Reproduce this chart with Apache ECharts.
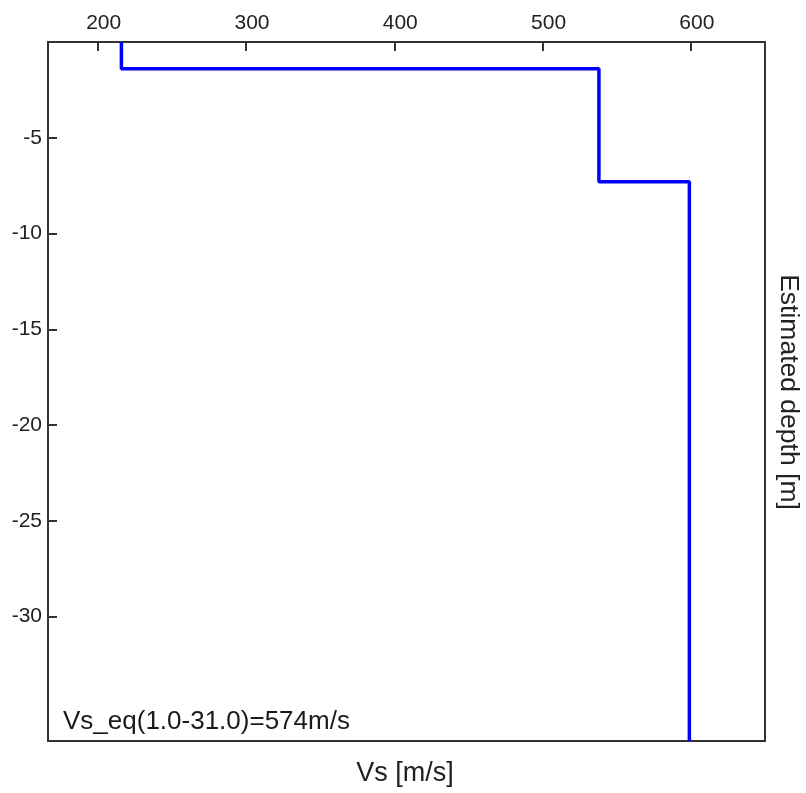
<!DOCTYPE html>
<html>
<head>
<meta charset="utf-8">
<script src="https://cdn.jsdelivr.net/npm/echarts@6/dist/echarts.min.js"></script>
<style>
html,body{margin:0;padding:0;background:#fff;}
#chart{width:806px;height:793px;}
</style>
</head>
<body>
<div id="chart"></div>
<script>
// Layered Vs profile
const layerTop = [0, 1.4, 7.3];          // m (depth of top of layer)
const layerBottom = [1.4, 7.3, 36.5];    // m (depth of bottom of layer)
const layerVs = [216, 538, 599];         // m/s
const xTicks = [200, 300, 400, 500, 600];
const yTicks = [-5, -10, -15, -20, -25, -30];
const annotation = 'Vs_eq(1.0-31.0)=574m/s';

const points = [];
for (let i = 0; i < layerVs.length; i++) {
  points.push([layerVs[i], -layerTop[i]]);
  points.push([layerVs[i], -layerBottom[i]]);
}

const FONT = 'Liberation Sans, Arial, sans-serif';
const chart = echarts.init(document.getElementById('chart'), null, {renderer: 'canvas'});
chart.setOption({
  animation: false,
  backgroundColor: '#ffffff',
  grid: {left: 48, top: 42, right: 41, bottom: 52, show: true, borderColor: '#333', borderWidth: 2, backgroundColor: '#fff'},
  xAxis: {
    type: 'value', position: 'top', min: 166.5, max: 650,
    axisLine: {show: true, lineStyle: {color: '#333', width: 2}},
    axisTick: {show: true, inside: true, length: 9, lineStyle: {color: '#333', width: 2},
      customValues: xTicks},
    axisLabel: {color: '#222', fontSize: 21, fontFamily: FONT, margin: 8, padding: [0,0,0,12],
      customValues: xTicks, hideOverlap: false},
    splitLine: {show: false}
  },
  yAxis: {
    type: 'value', min: -36.5, max: 0,
    axisLine: {show: true, lineStyle: {color: '#333', width: 2}},
    axisTick: {show: true, inside: true, length: 9, lineStyle: {color: '#333', width: 2},
      customValues: yTicks},
    axisLabel: {color: '#222', fontSize: 21, fontFamily: FONT, margin: 6,
      customValues: yTicks},
    splitLine: {show: false}
  },
  graphic: [
    {type: 'text', x: 788, y: 392, rotation: -Math.PI / 2,
      style: {text: 'Estimated depth [m]', fill: '#222', font: '26.5px ' + FONT, textAlign: 'center', textVerticalAlign: 'middle'}},
    {type: 'text', x: 405, y: 774,
      style: {text: 'Vs [m/s]', fill: '#222', font: '27px ' + FONT, textAlign: 'center', textVerticalAlign: 'middle'}},
    {type: 'text', x: 63, y: 735, z: 10,
      style: {text: annotation, fill: '#1a1a1a', font: '26px ' + FONT, textAlign: 'left', textVerticalAlign: 'bottom'}}
  ],
  series: [{
    type: 'line', data: points, showSymbol: false, symbol: 'none',
    lineStyle: {color: '#0000ff', width: 3.5}, clip: true
  }]
});
</script>
</body>
</html>
